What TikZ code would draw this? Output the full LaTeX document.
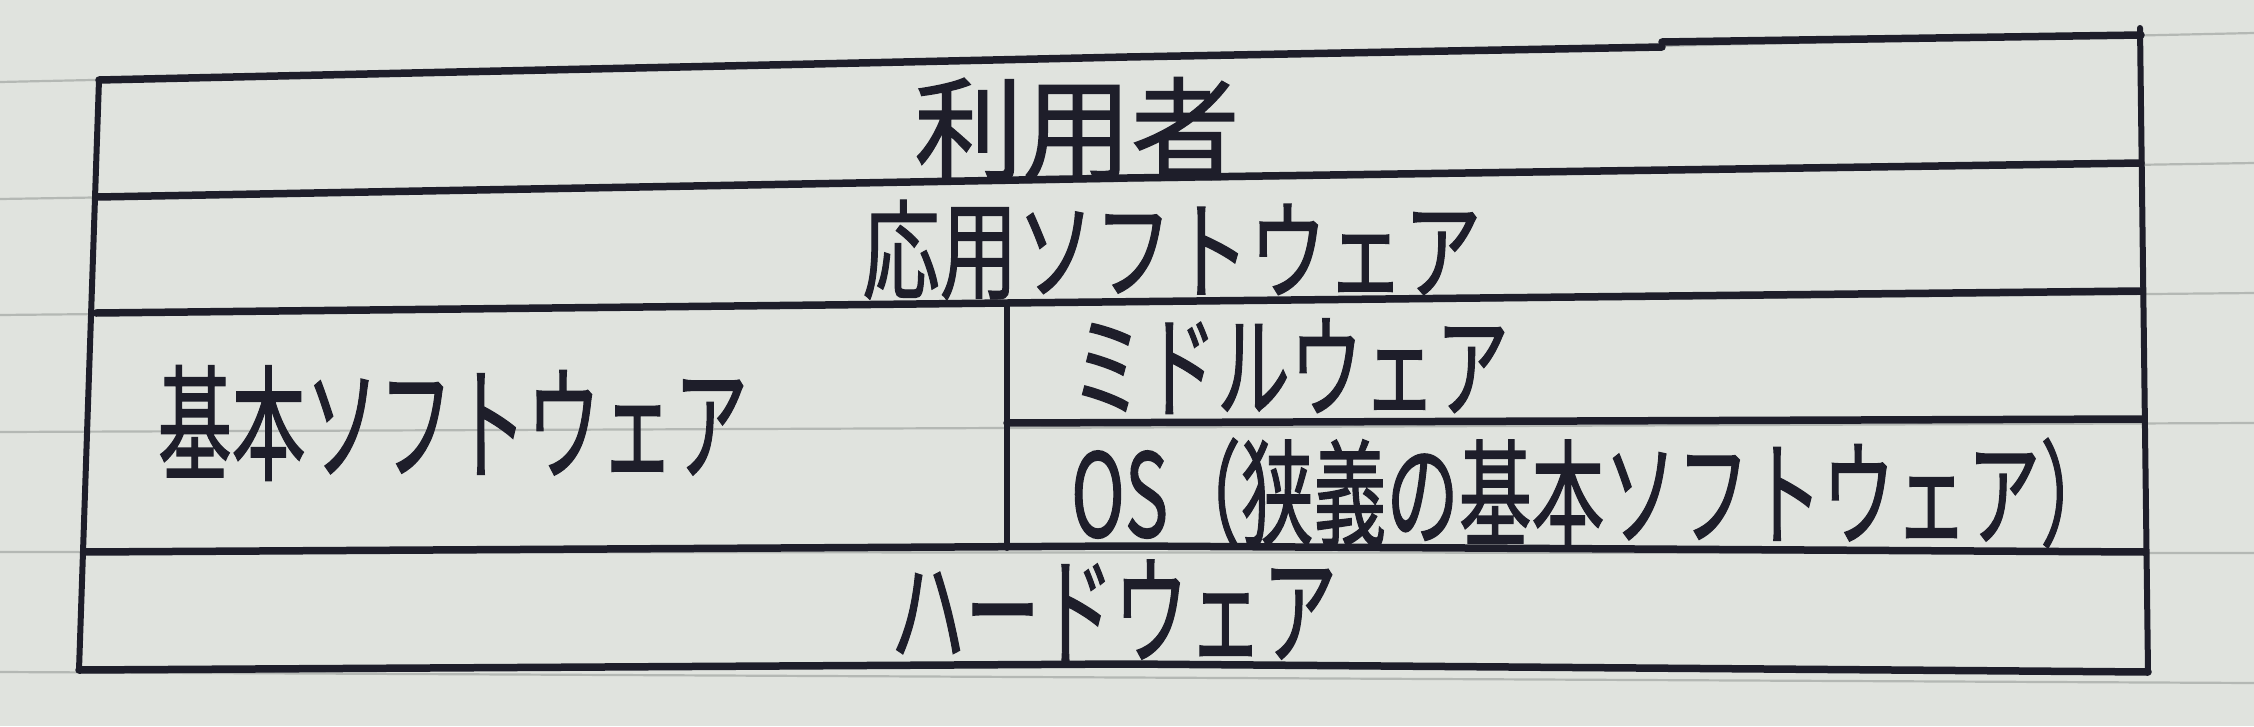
\documentclass[tikz,border=0pt]{standalone}
\usepackage{fontspec}
\usepackage{graphicx}
\newfontfamily\cjk[FakeBold=1.3]{Noto Sans CJK JP}
\definecolor{paper}{RGB}{224,227,222}
\definecolor{ink}{RGB}{30,30,42}
\definecolor{ruling}{RGB}{180,184,180}
\newcommand{\hw}[3]{\resizebox*{#1pt}{#2pt}{\cjk #3}}
\tikzset{
  lbl/.style={inner sep=0pt, text=ink},
  hline/.style={draw=ink, line width=7.5pt, line cap=round, line join=round},
  vline/.style={draw=ink, line width=6pt, line cap=round},
  paperline/.style={draw=ruling, line width=2.2pt}
}
\begin{document}
\begin{tikzpicture}[x=1pt,y=-1pt]
\fill[paper] (0,0) rectangle (2254,726);
\useasboundingbox (0,0) rectangle (2254,726);
% ruled paper lines
\foreach \l/\r in {82/33, 199/163, 315/293, 432/423, 552/553, 672/683}
  \draw[paperline] (0,\l) -- (2254,\r);
% corners and joints
\coordinate (tl) at (99,80);
\coordinate (tr) at (2141,35);
\coordinate (bl) at (79,670);
\coordinate (br) at (2148,672);
\coordinate (vtop) at (1007,303);
\coordinate (vbot) at (1007,548);
\coordinate (ml) at (1007,423);
\coordinate (mr) at (2143,419);
% table
\draw[hline] (tl) -- (1127,57) -- (1662,47);
\draw[hline] (1662,42) -- (tr);
\draw[vline] (2140,28) -- (br);
\draw[vline] (tl) -- (bl);
\draw[hline] (97,197) -- (1127,178) -- (2141,163);
\draw[hline] (96,313) -- (vtop) -- (2141,291);
\draw[hline] (84,552) -- (1127,546) -- (2145,552);
\draw[hline] (bl) -- (1127,664) -- (br);
\draw[vline] (vtop) -- (vbot);
\draw[hline] (ml) -- (mr);
% labels
\node[lbl] (user) at (1077,129) {\hw{325}{103}{利用者}};
\node[lbl] (app) at (1172,250) {\hw{619}{100}{応用ソフトウェア}};
\node[lbl] (basic) at (453,423) {\hw{590}{115}{基本ソフトウェア}};
\node[lbl] (mid) at (1290,366) {\hw{438}{95}{ミドルウェア}};
\node[lbl] (os) at (1592,493) {\hw{1042}{110}{OS（狭義の基本ソフトウェア）}};
\node[lbl] (hw) at (1114,610) {\hw{446}{100}{ハードウェア}};
\end{tikzpicture}
\end{document}
